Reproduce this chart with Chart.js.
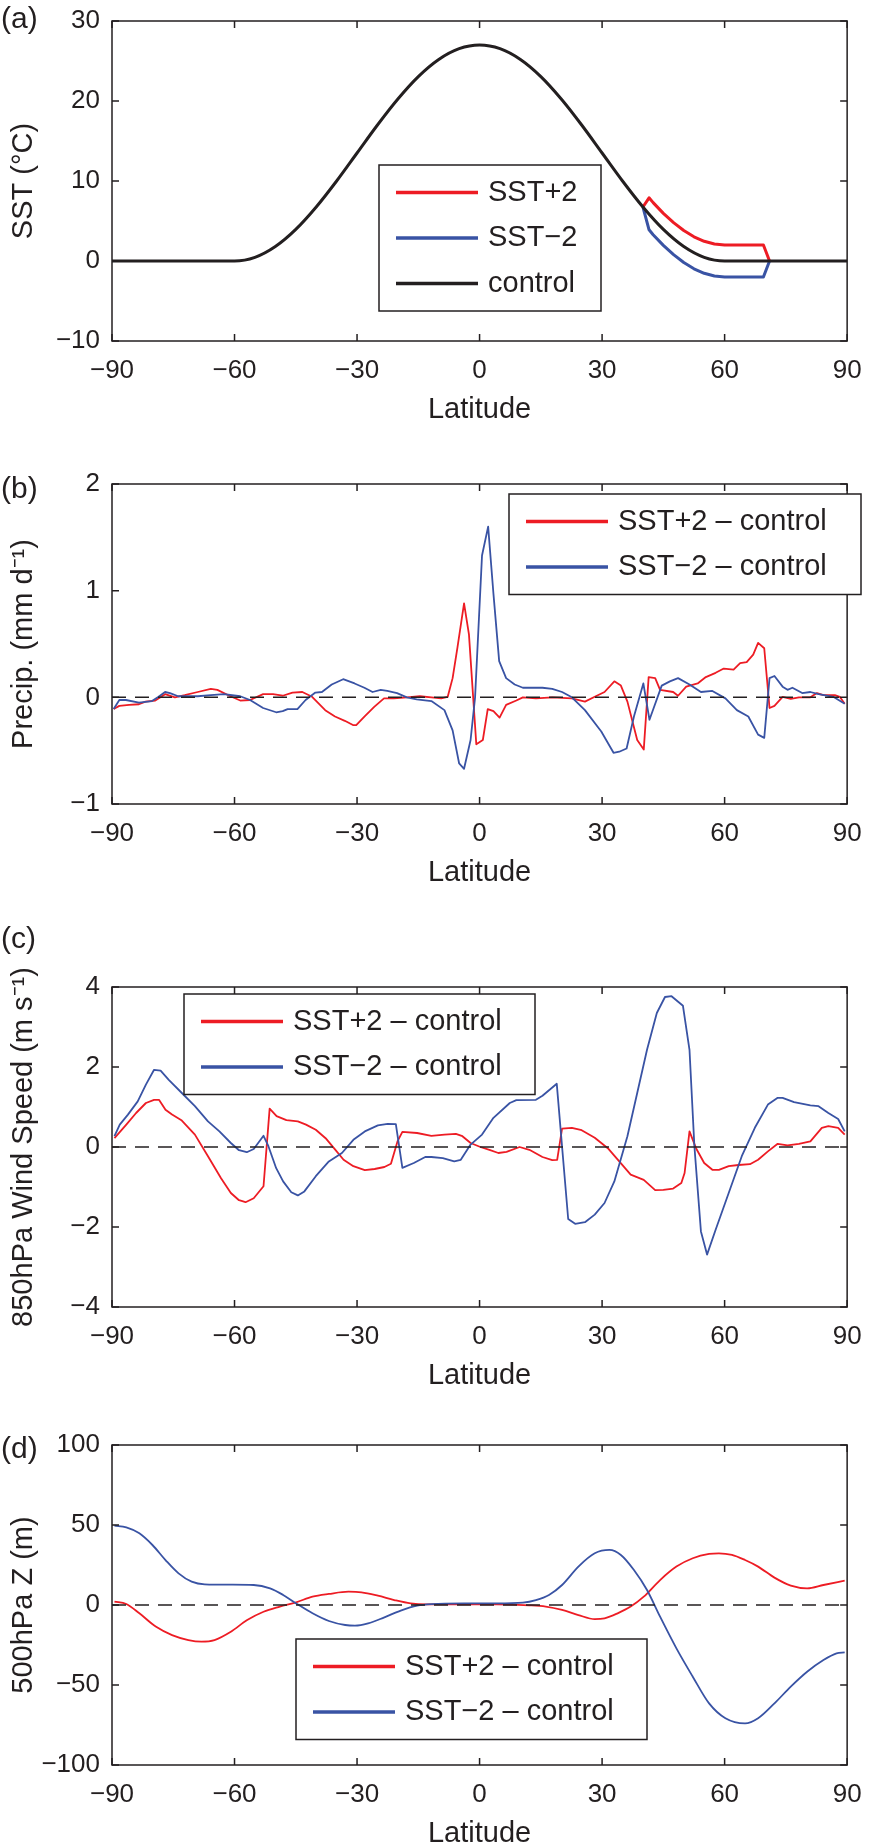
<!DOCTYPE html>
<html>
<head>
<meta charset="utf-8">
<title>SST sensitivity experiments</title>
<script src="https://cdn.jsdelivr.net/npm/chart.js@4.4.1/dist/chart.umd.min.js"></script>
<style>
html, body { margin:0; padding:0; background:#fff; }
body { width:876px; height:1845px; overflow:hidden; position:relative; }
canvas { position:absolute; left:0; }
</style>
</head>
<body>
<canvas id="pa" width="876" height="490" style="top:-49px"></canvas>
<canvas id="pb" width="876" height="490" style="top:414px"></canvas>
<canvas id="pc" width="876" height="490" style="top:917px"></canvas>
<canvas id="pd" width="876" height="490" style="top:1375px"></canvas>
<script>
// ---------------- data ----------------
const latTicks = [-90, -60, -30, 0, 30, 60, 90];

// (a) SST
const sstLat = [-90,-85,-80,-75,-70,-65,-60,-55,-50,-45,-40,-35,-30,-25,-20,-15,-10,-5,0,5,10,15,20,25,30,35,40,45,50,55,60,65,70,75,80,85,90];
const sstControl = [0,0,0,0,0,0,0,0.46,1.81,3.95,6.75,10.0,13.5,17.0,20.25,23.05,25.19,26.54,27,26.54,25.19,23.05,20.25,17.0,13.5,10.0,6.75,3.95,1.81,0.46,0,0,0,0,0,0,0];
const sstPlusLat = [40,41.5,42.5,45,47.5,50,52.5,55,57.5,60,65,69.5,71];
const sstPlus = [6.75,7.9,7.3,5.95,4.79,3.81,3.03,2.46,2.12,2.0,2.0,2.0,0];
const sstMinusLat = [40,41.5,42.5,45,47.5,50,52.5,55,57.5,60,65,69.5,71];
const sstMinus = [6.75,3.9,3.28,1.95,0.79,-0.19,-0.97,-1.54,-1.88,-2.0,-2.0,-2.0,0];

// (b) precipitation difference
const precipLatP = [-89.6,-88.2,-85.8,-83.4,-81.8,-79.4,-77,-74.6,-72.2,-69,-65.8,-64.2,-61,-58.6,-56.2,-53,-50.6,-48.2,-45.8,-43.4,-41,-37.8,-35.4,-33,-31,-30.2,-28.2,-25.8,-23.4,-21,-17.8,-14.6,-11.8,-9.4,-7.8,-6.6,-5.4,-3.8,-2.6,-0.8,0.8,2.0,3.4,4.9,6.5,9.0,10.6,13.8,17.8,22.6,25.8,28.2,30.6,33.0,34.6,36.2,38.6,40.2,41.4,43.0,44.2,47.4,48.6,50.6,53.4,55.4,57.8,59.8,62.2,63.8,65.4,67.0,68.2,69.7,71.0,72.2,74.2,76.2,78.2,81.0,82.6,84.2,87.0,88.2,89.4];
const precipP = [-0.11,-0.08,-0.07,-0.065,-0.04,-0.03,0.03,0,0.02,0.05,0.08,0.07,0.01,-0.03,-0.025,0.03,0.03,0.015,0.045,0.05,0.005,-0.12,-0.18,-0.22,-0.26,-0.26,-0.18,-0.09,-0.01,-0.01,0,0.01,0,-0.01,0.005,0.18,0.47,0.88,0.59,-0.44,-0.4,-0.11,-0.13,-0.19,-0.07,-0.03,0,-0.01,0,-0.01,-0.04,0.005,0.05,0.15,0.11,-0.04,-0.4,-0.49,0.19,0.18,0.07,0.05,0.015,0.1,0.13,0.19,0.23,0.27,0.26,0.32,0.33,0.40,0.51,0.46,-0.10,-0.08,0.005,-0.015,0,0,0.04,0.02,0.02,0.005,-0.06];
const precipLatM = [-89.6,-88.2,-86.6,-83.4,-80.2,-78.6,-77,-75.8,-73.8,-69,-65.8,-62.6,-58.6,-56.2,-53,-49.8,-48.2,-47,-44.6,-42.6,-40.2,-38.6,-36.2,-33.4,-30.6,-28.2,-26.2,-24.2,-22.6,-20.2,-17.8,-15.4,-11.8,-8.6,-6.6,-5.0,-3.8,-2.2,-1.1,0.6,2.1,3.4,4.8,6.5,8.6,10.6,15.4,17.8,20.2,22.6,25.8,29.8,32.8,34.2,36.0,37.8,40.1,41.6,44.6,46.6,48.6,51.4,54.2,57.0,60.2,63.0,65.8,68.2,69.7,71.0,72.2,74.2,75.4,76.6,79.0,81.0,83.0,86.6,89.4];
const precipM = [-0.11,-0.025,-0.025,-0.05,-0.035,0.005,0.05,0.04,0.01,0.01,0.02,0.03,0.01,-0.025,-0.1,-0.14,-0.13,-0.11,-0.11,-0.025,0.045,0.05,0.12,0.17,0.13,0.09,0.05,0.07,0.06,0.04,0,-0.02,-0.035,-0.12,-0.31,-0.62,-0.67,-0.4,0,1.33,1.60,0.97,0.34,0.18,0.12,0.09,0.09,0.08,0.05,0,-0.12,-0.32,-0.52,-0.51,-0.48,-0.18,0.13,-0.21,0.11,0.15,0.18,0.12,0.05,0.06,-0.01,-0.12,-0.18,-0.35,-0.38,0.18,0.2,0.1,0.07,0.09,0.04,0.05,0.03,0.005,-0.06];

// (c) 850hPa wind speed difference
const windLatP = [-89.4,-86.5,-84.1,-81.7,-79.7,-78.5,-76.9,-75.3,-72.9,-69.7,-66.5,-63.3,-60.9,-58.9,-57.3,-55.3,-52.9,-51.4,-49.7,-47.3,-44.5,-42.5,-40.1,-37.7,-35.3,-33.3,-30.9,-28.1,-25.7,-23.3,-21.7,-20.1,-18.9,-15.3,-11.8,-8.6,-5.8,-4.2,-2.2,0.2,2.6,4.6,6.6,9.8,12.2,15.4,17.8,19.0,20.2,22.6,25.0,28.2,31.4,34.2,37.0,40.2,43.0,45.0,47.4,49.4,50.2,51.4,53.0,55.0,57.0,58.6,61.0,63.4,66.2,68.2,70.6,73.0,75.4,78.2,81.0,83.8,85.4,87.8,89.4];
const windP = [0.22,0.56,0.85,1.1,1.18,1.18,0.93,0.81,0.66,0.31,-0.23,-0.78,-1.15,-1.33,-1.38,-1.28,-0.98,0.96,0.77,0.67,0.64,0.56,0.43,0.22,-0.07,-0.32,-0.48,-0.58,-0.55,-0.5,-0.42,0.14,0.38,0.35,0.28,0.31,0.33,0.27,0.10,0,-0.08,-0.15,-0.12,0,-0.07,-0.25,-0.33,-0.32,0.46,0.48,0.42,0.23,-0.03,-0.36,-0.69,-0.82,-1.08,-1.07,-1.04,-0.9,-0.65,0.39,-0.03,-0.4,-0.57,-0.57,-0.48,-0.45,-0.43,-0.32,-0.11,0.08,0.04,0.08,0.14,0.48,0.52,0.48,0.31];
const windLatM = [-89.4,-88.1,-86.1,-83.7,-81.7,-79.7,-78.1,-76.1,-72.9,-69.7,-66.5,-63.7,-60.9,-58.9,-57.0,-55.3,-52.9,-51.7,-49.8,-48.1,-46.1,-44.5,-42.9,-40.1,-36.9,-33.7,-30.9,-28.1,-24.9,-22.5,-20.5,-18.9,-16.1,-13.3,-11.8,-9.0,-6.2,-4.6,-2.2,0.6,3.4,7.4,9.0,13.8,15.4,18.9,21.7,23.4,25.8,28.2,30.6,33.0,36.2,38.6,41.0,43.4,45.4,47.0,49.8,51.4,52.6,54.2,55.7,57.8,61.0,64.2,67.4,70.6,73.0,74.2,77.0,81.0,83.0,85.4,87.8,89.4];
const windM = [0.27,0.56,0.81,1.14,1.56,1.93,1.91,1.68,1.35,1.02,0.64,0.39,0.1,-0.08,-0.13,-0.05,0.28,0.02,-0.53,-0.86,-1.13,-1.21,-1.11,-0.73,-0.36,-0.15,0.18,0.39,0.54,0.58,0.57,-0.52,-0.40,-0.25,-0.25,-0.28,-0.36,-0.32,0.06,0.31,0.73,1.1,1.17,1.18,1.28,1.58,-1.8,-1.92,-1.88,-1.69,-1.4,-0.86,0.27,1.35,2.43,3.35,3.75,3.77,3.53,2.43,0.02,-2.11,-2.69,-2.07,-1.15,-0.23,0.48,1.06,1.23,1.23,1.12,1.04,1.02,0.85,0.7,0.39];

// (d) 500hPa geopotential height difference
const zLatP = [-89.4,-86.5,-83.3,-79.3,-75.3,-71.3,-68.1,-64.9,-60.9,-56.9,-52.9,-48.9,-44.9,-40.9,-36.9,-32.1,-28.9,-24.9,-20.9,-16.9,-12.9,-3.8,4.2,12.2,16.2,20.2,24.2,28.2,30.6,33.8,37.0,40.2,44.2,48.2,52.2,56.2,58.6,61.8,65.0,68.2,72.2,76.2,80.2,84.2,89.4];
const zP = [2.1,0.6,-5.2,-13.5,-18.8,-21.9,-22.9,-21.9,-16.7,-9.4,-4.2,-1.0,1.7,5.2,6.9,8.3,7.9,5.8,3.1,1.0,0.4,0.4,0.4,-0.2,-1.0,-3.1,-6.3,-8.8,-8.3,-5.2,-1.0,5.2,15.6,24.0,29.2,31.9,32.3,31.3,28.1,24.0,17.1,12.1,10.4,12.5,15.2];
const zLatM = [-89.4,-86.5,-83.3,-80.1,-76.9,-73.7,-70.5,-67.3,-60.9,-55.3,-51.3,-48.1,-44.9,-40.9,-36.9,-32.9,-30.5,-27.3,-23.3,-19.3,-15.3,-11.8,-3.8,4.2,10.6,13.8,17.0,20.2,24.2,28.2,31.8,34.6,37.8,41.0,44.2,48.2,52.2,56.2,60.2,65.0,68.2,72.2,76.2,80.2,84.2,87.4,89.4];
const zM = [49.6,48.5,44.8,37.5,28.1,19.8,14.6,12.9,12.7,12.5,10.4,6.3,1.0,-5.2,-10.0,-12.5,-12.9,-11.5,-7.7,-3.5,-0.4,0.6,1.0,1.0,1.5,3.1,6.3,12.5,24.0,32.3,34.4,31.3,21.9,9.4,-7.3,-27.1,-44.8,-61.5,-70.8,-74.0,-70.8,-61.5,-51.0,-41.7,-34.4,-30.2,-29.6];

const zeroLine = [-90, 90];

// ---------------- styling ----------------
const INK = '#231f20';
const RED = '#ed1c24';
const BLUE = '#3953a4';
const FONT = '"Liberation Sans", Arial, Helvetica, sans-serif';
Chart.defaults.font.family = FONT;
Chart.defaults.color = INK;

const pts = (xs, ys) => xs.map((x, i) => ({ x: x, y: ys[i] }));
const fmt = v => (v < 0 ? '\u2212' + Math.abs(v) : String(v));

const framePlugin = {
  id: 'frame',
  afterDraw(chart, args, opts) {
    const { ctx, chartArea: a, scales } = chart;
    const xs = scales.x, ys = scales.y;
    ctx.save();
    // box
    ctx.strokeStyle = INK;
    ctx.lineWidth = 1.5;
    ctx.strokeRect(a.left, a.top, a.right - a.left, a.bottom - a.top);
    // inward ticks on all four sides
    ctx.beginPath();
    xs.ticks.forEach(t => {
      const p = xs.getPixelForValue(t.value);
      ctx.moveTo(p, a.bottom); ctx.lineTo(p, a.bottom - 7);
      ctx.moveTo(p, a.top); ctx.lineTo(p, a.top + 7);
    });
    ys.ticks.forEach(t => {
      const p = ys.getPixelForValue(t.value);
      ctx.moveTo(a.left, p); ctx.lineTo(a.left + 7, p);
      ctx.moveTo(a.right, p); ctx.lineTo(a.right - 7, p);
    });
    ctx.stroke();
    // legend box
    const L = opts.legend;
    if (L) {
      const items = chart.data.datasets.filter(d => d.label);
      const bx = a.left + L.x, by = a.top + L.y;
      const bh = 27.5 * 2 + 45.5 * (items.length - 1);
      ctx.fillStyle = '#fff';
      ctx.fillRect(bx, by, L.w, bh);
      ctx.strokeStyle = INK;
      ctx.lineWidth = 1.5;
      ctx.strokeRect(bx, by, L.w, bh);
      ctx.font = '29px ' + FONT;
      ctx.textBaseline = 'middle';
      ctx.textAlign = 'left';
      items.forEach((d, i) => {
        const yy = by + 27.5 + i * 45.5;
        ctx.strokeStyle = d.borderColor;
        ctx.lineWidth = 3.3;
        ctx.beginPath();
        ctx.moveTo(bx + 17, yy); ctx.lineTo(bx + 99, yy);
        ctx.stroke();
        ctx.fillStyle = INK;
        ctx.fillText(d.label, bx + 109, yy);
      });
    }
    // panel tag
    ctx.fillStyle = INK;
    ctx.font = '30px ' + FONT;
    ctx.textBaseline = 'middle';
    ctx.textAlign = 'left';
    ctx.fillText(opts.tag, 1, a.top + opts.tagDy);
    ctx.restore();
  }
};

function makePanel(id, cfg) {
  return new Chart(document.getElementById(id), {
    type: 'line',
    data: { datasets: cfg.datasets },
    options: {
      responsive: false,
      animation: false,
      events: [],
      layout: { padding: { left: 0, right: 14, top: 70, bottom: 0 } },
      elements: { point: { radius: 0 }, line: { borderJoinStyle: 'round', borderCapStyle: 'butt' } },
      plugins: {
        legend: { display: false },
        tooltip: { enabled: false },
        frame: { tag: cfg.tag, tagDy: cfg.tagDy, legend: cfg.legend }
      },
      scales: {
        x: {
          type: 'linear', min: -90, max: 90,
          afterBuildTicks: s => { s.ticks = latTicks.map(v => ({ value: v })); },
          ticks: { padding: 14.4, font: { size: 26 }, color: INK, callback: fmt, maxRotation: 0, autoSkip: false },
          grid: { display: false, drawTicks: false },
          border: { display: false },
          title: { display: true, text: 'Latitude', color: INK, font: { size: 29, lineHeight: 1 }, padding: { top: 0, bottom: 16.5 } },
          afterFit: s => { s.height = 100; }
        },
        y: {
          type: 'linear', min: cfg.yMin, max: cfg.yMax,
          ticks: { stepSize: cfg.yStep, padding: 12, font: { size: 26 }, color: INK, callback: fmt },
          grid: { display: false, drawTicks: false },
          border: { display: false },
          title: { display: true, text: cfg.yTitle, color: INK, font: { size: 29, lineHeight: 1 }, padding: { top: 9.5, bottom: 0 } },
          afterFit: s => { s.width = 112; }
        }
      }
    },
    plugins: [framePlugin]
  });
}

const dashed = () => ({
  data: pts(zeroLine, [0, 0]), borderColor: INK, borderWidth: 1.5, borderDash: [14, 9], order: 1
});

makePanel('pa', {
  tag: '(a)', tagDy: -1, yMin: -10, yMax: 30, yStep: 10, yTitle: 'SST (\u00b0C)',
  legend: { x: 267, y: 144, w: 222 },
  datasets: [
    { label: 'SST+2', data: pts(sstPlusLat, sstPlus), borderColor: RED, borderWidth: 3, order: 3 },
    { label: 'SST\u22122', data: pts(sstMinusLat, sstMinus), borderColor: BLUE, borderWidth: 3, order: 2 },
    { label: 'control', data: pts(sstLat, sstControl), borderColor: INK, borderWidth: 3, cubicInterpolationMode: 'monotone', order: 1 }
  ]
});

makePanel('pb', {
  tag: '(b)', tagDy: 6, yMin: -1, yMax: 2, yStep: 1, yTitle: 'Precip. (mm d\u207b\u00b9)',
  legend: { x: 397, y: 10, w: 352 },
  datasets: [
    { label: 'SST+2 \u2013 control', data: pts(precipLatP, precipP), borderColor: RED, borderWidth: 1.8, order: 3 },
    { label: 'SST\u22122 \u2013 control', data: pts(precipLatM, precipM), borderColor: BLUE, borderWidth: 1.8, order: 2 },
    dashed()
  ]
});

makePanel('pc', {
  tag: '(c)', tagDy: -47, yMin: -4, yMax: 4, yStep: 2, yTitle: '850hPa Wind Speed (m s\u207b\u00b9)',
  legend: { x: 72, y: 7, w: 351 },
  datasets: [
    { label: 'SST+2 \u2013 control', data: pts(windLatP, windP), borderColor: RED, borderWidth: 1.8, order: 3 },
    { label: 'SST\u22122 \u2013 control', data: pts(windLatM, windM), borderColor: BLUE, borderWidth: 1.8, order: 2 },
    dashed()
  ]
});

makePanel('pd', {
  tag: '(d)', tagDy: 5, yMin: -100, yMax: 100, yStep: 50, yTitle: '500hPa Z (m)',
  legend: { x: 184, y: 194, w: 351 },
  datasets: [
    { label: 'SST+2 \u2013 control', data: pts(zLatP, zP), borderColor: RED, borderWidth: 1.8, cubicInterpolationMode: 'monotone', order: 3 },
    { label: 'SST\u22122 \u2013 control', data: pts(zLatM, zM), borderColor: BLUE, borderWidth: 1.8, cubicInterpolationMode: 'monotone', order: 2 },
    dashed()
  ]
});
</script>
</body>
</html>
